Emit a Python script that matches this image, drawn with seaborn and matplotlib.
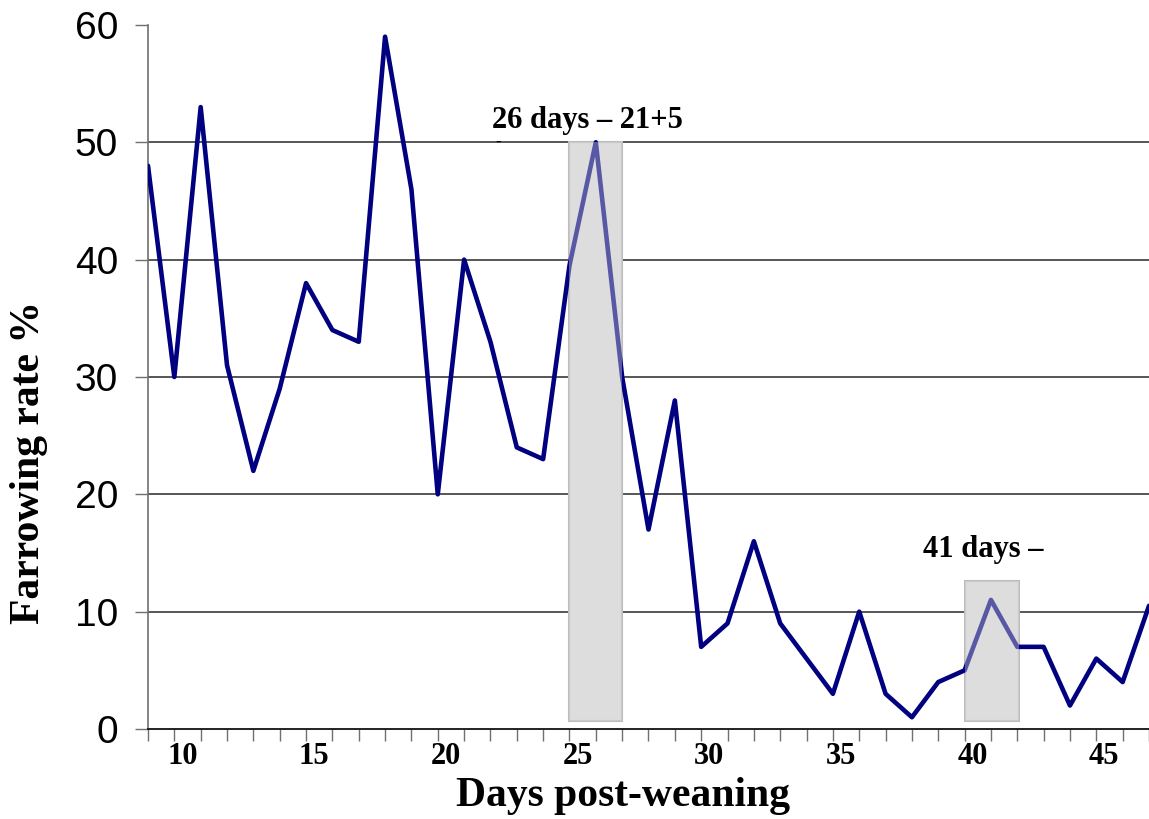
import matplotlib
matplotlib.use("Agg")
import matplotlib.pyplot as plt
import matplotlib.transforms as mtransforms
from matplotlib.patches import Rectangle
import seaborn as sns
import pandas as pd

days = list(range(9, 48))
rate = [48, 30, 53, 31, 22, 29, 38, 34, 33, 59, 46, 20, 40, 33, 24, 23, 39.5, 50, 30,
        17, 28, 7, 9, 16, 9, 6, 3, 10, 3, 1, 4, 5, 11, 7, 7, 2, 6, 4, 10.5]
y_ticks = [0, 10, 20, 30, 40, 50, 60]
x_label_days = [10, 15, 20, 25, 30, 35, 40, 45]
highlights = [(25.0, 27.0, 0.65, 50.0), (40.0, 42.05, 0.65, 12.6)]
notes = [("26 days – 21+5", 25.7, 51.2), ("41 days –", 40.7, 14.7)]

sns.set_style("white")
plt.rcParams["font.family"] = ["Liberation Sans", "DejaVu Sans"]

fig = plt.figure(figsize=(11.49, 8.19), dpi=100)
ax = fig.add_axes([0.1288, 0.1099, 0.8712, 0.8596])

df = pd.DataFrame({"day": days, "rate": rate})

for x0, x1, y0, y1 in highlights:
    ax.add_patch(Rectangle((x0, y0), x1 - x0, y1 - y0, facecolor="#dddddd",
                           edgecolor="#bdbdbd", linewidth=1.5, zorder=1))

sns.lineplot(data=df, x="day", y="rate", ax=ax, color="#000080", linewidth=3.3,
             zorder=3)

for x0, x1, y0, y1 in highlights:
    ax.add_patch(Rectangle((x0, y0), x1 - x0, y1 - y0, facecolor="#dddddd",
                           edgecolor="none", alpha=0.4, zorder=4))

ax.set_xlim(9, 46.85)
ax.set_ylim(0, 60)
ax.set_yticks(y_ticks)
ax.set_yticklabels([str(v) for v in y_ticks], fontsize=28, family="Liberation Sans",
                   color="black")
ax.set_xticks(days)
ax.set_xticklabels([str(d) if d in x_label_days else "" for d in days],
                   fontsize=22, fontweight="bold", family="Liberation Serif",
                   color="black")

for v in y_ticks[1:-1]:
    ax.axhline(v, color="#3a3a3a", linewidth=1.2, zorder=0.5)

ax.tick_params(axis="y", direction="out", length=9.5, width=1, color="#707070", pad=12,
               left=True)
ax.tick_params(axis="x", direction="out", length=8.5, width=1, color="#707070", pad=1,
               bottom=True)

offset = mtransforms.ScaledTranslation(8 / 100, 0, fig.dpi_scale_trans)
for lbl in ax.xaxis.get_majorticklabels():
    lbl.set_transform(lbl.get_transform() + offset)

for s in ["top", "right"]:
    ax.spines[s].set_visible(False)
ax.spines["left"].set_color("#707070")
ax.spines["left"].set_linewidth(1.2)
ax.spines["bottom"].set_color("#111111")
ax.spines["bottom"].set_linewidth(1.3)

ax.set_xlabel("Days post-weaning", fontsize=30, fontweight="bold",
              family="Liberation Serif", color="black")
ax.set_ylabel("Farrowing rate %", fontsize=30, fontweight="bold",
              family="Liberation Serif", color="black")
ax.xaxis.set_label_coords(0.475, -0.068)
ax.yaxis.set_label_coords(-0.1, 0.379)

for txt, x, y in notes:
    ax.text(x, y, txt, fontsize=22, fontweight="bold", family="Liberation Serif",
            ha="center", va="baseline", color="black", zorder=5)
ax.text(22.3, 49.6, "-", fontsize=12, fontweight="bold", family="Liberation Serif",
        ha="center", va="baseline", color="black", zorder=5)

fig.savefig("out.png", dpi=100)
